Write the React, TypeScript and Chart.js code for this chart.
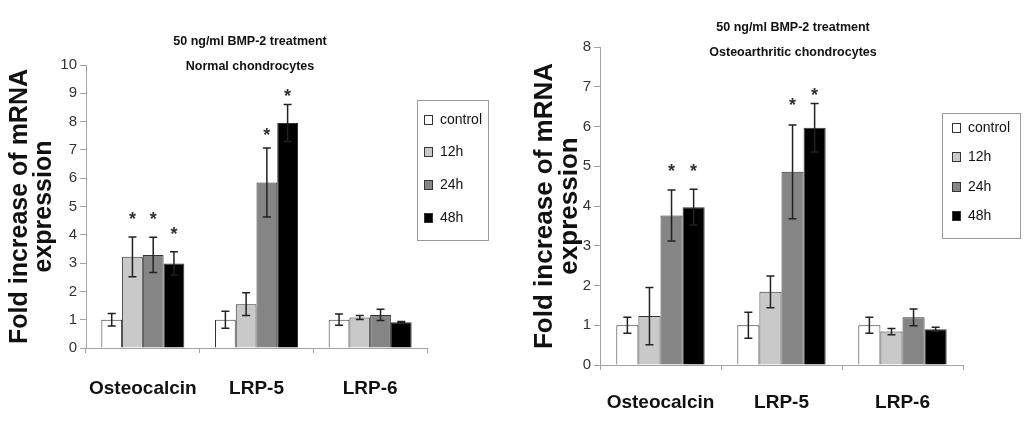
import React, { useEffect, useRef } from 'react';
import { Chart, registerables } from 'chart.js';

Chart.register(...registerables);

// ---------- data ----------
const categories = ['Osteocalcin', 'LRP-5', 'LRP-6'];
const seriesNames = ['control', '12h', '24h', '48h'];
const seriesColors = ['#ffffff', '#c9c9c9', '#858585', '#000000'];
const yAxisTitle = ['Fold increase of mRNA', 'expression'];

// Normal chondrocytes
const normalTitle = ['50 ng/ml BMP-2 treatment', 'Normal chondrocytes'];
const normalControl = [1.0, 1.0, 1.0];
const normal12h = [3.22, 1.55, 1.08];
const normal24h = [3.29, 5.85, 1.17];
const normal48h = [2.99, 7.95, 0.91];
const normalControlErr = [0.22, 0.3, 0.2];
const normal12hErr = [0.7, 0.4, 0.07];
const normal24hErr = [0.62, 1.22, 0.2];
const normal48hErr = [0.41, 0.65, 0.03];
const normal12hStar = [4.66, null, null];
const normal24hStar = [4.66, 7.64, null];
const normal48hStar = [4.13, 9.0, null];
const normalYTicks = [0, 1, 2, 3, 4, 5, 6, 7, 8, 9, 10];

// Osteoarthritic chondrocytes
const oaTitle = ['50 ng/ml BMP-2 treatment', 'Osteoarthritic chondrocytes'];
const oaControl = [1.0, 1.0, 1.0];
const oa12h = [1.23, 1.84, 0.84];
const oa24h = [3.76, 4.86, 1.2];
const oa48h = [3.97, 5.97, 0.9];
const oaControlErr = [0.2, 0.33, 0.2];
const oa12hErr = [0.72, 0.4, 0.08];
const oa24hErr = [0.64, 1.18, 0.21];
const oa48hErr = [0.45, 0.61, 0.05];
const oa12hStar = [null, null, null];
const oa24hStar = [4.95, 6.62, null];
const oa48hStar = [4.95, 6.86, null];
const oaYTicks = [0, 1, 2, 3, 4, 5, 6, 7, 8];

// ---------- styles ----------
const FONT = "'Liberation Sans', Arial, sans-serif";
const AXIS_COLOR = '#a3a3a3';

type Layout = {
  canvasLeft: number;
  padTop: number;
  padRight: number;
  axisWidth: number;
  xAxisHeight: number;
  xLabelPad: number;
  yTitleSize: number;
  yTitlePad: number;
  yTitleLH: number;
  titleX: number;
  titleY: number[];
  legendBox: number[];
  legendItemsY: number[];
  legendMarkerX: number;
  legendTextX: number;
};

type PanelProps = {
  title: string[];
  values: number[][];
  errors: number[][];
  stars: (number | null)[][];
  yTicks: number[];
  layout: Layout;
};

function Panel({ title, values, errors, stars, yTicks, layout }: PanelProps) {
  const ref = useRef<HTMLCanvasElement | null>(null);

  useEffect(() => {
    if (!ref.current) return;
    const overlay = {
      id: 'overlay',
      afterDatasetsDraw(chart: any) {
        const ctx = chart.ctx;
        const y = chart.scales.y;
        ctx.save();
        values.forEach((_s, di) => {
          const meta = chart.getDatasetMeta(di);
          meta.data.forEach((bar: any, ci: number) => {
            const v = values[di][ci];
            const e = errors[di][ci];
            const yt = y.getPixelForValue(v + e);
            const yb = y.getPixelForValue(v - e);
            ctx.strokeStyle = '#222';
            ctx.lineWidth = 1.5;
            ctx.beginPath();
            ctx.moveTo(bar.x, yt);
            ctx.lineTo(bar.x, yb);
            ctx.moveTo(bar.x - 4, yt);
            ctx.lineTo(bar.x + 4, yt);
            ctx.moveTo(bar.x - 4, yb);
            ctx.lineTo(bar.x + 4, yb);
            ctx.stroke();
            const s = stars[di][ci];
            if (s !== null && s !== undefined) {
              ctx.fillStyle = '#333';
              ctx.font = `bold 18px ${FONT}`;
              ctx.textAlign = 'center';
              ctx.textBaseline = 'middle';
              ctx.fillText('*', bar.x, y.getPixelForValue(s) + 4);
            }
          });
        });
        ctx.restore();
      },
      afterDraw(chart: any) {
        const ctx = chart.ctx;
        ctx.save();
        // titles
        ctx.fillStyle = '#111';
        ctx.font = `bold 12.5px ${FONT}`;
        ctx.textAlign = 'center';
        ctx.textBaseline = 'middle';
        title.forEach((t, i) => ctx.fillText(t, layout.titleX, layout.titleY[i]));
        // legend
        const [bx, by, bw, bh] = layout.legendBox;
        ctx.strokeStyle = '#9a9a9a';
        ctx.lineWidth = 1;
        ctx.strokeRect(bx + 0.5, by + 0.5, bw, bh);
        chart.data.datasets.forEach((ds: any, i: number) => {
          const yy = layout.legendItemsY[i];
          ctx.fillStyle = ds.backgroundColor;
          ctx.fillRect(layout.legendMarkerX, yy - 5, 9, 10);
          ctx.strokeStyle = '#333';
          ctx.strokeRect(layout.legendMarkerX + 0.5, yy - 4.5, 8, 9);
          ctx.fillStyle = '#111';
          ctx.font = `14px ${FONT}`;
          ctx.textAlign = 'left';
          ctx.textBaseline = 'middle';
          ctx.fillText(ds.label, layout.legendTextX, yy);
        });
        ctx.restore();
      },
    };

    const chart = new Chart(ref.current, {
      type: 'bar',
      data: {
        labels: categories,
        datasets: values.map((v, i) => ({
          label: seriesNames[i],
          data: v,
          backgroundColor: seriesColors[i],
          borderColor: '#333',
          borderWidth: 1,
          categoryPercentage: 0.73,
          barPercentage: 1.0,
        })),
      },
      options: {
        animation: false,
        responsive: false,
        devicePixelRatio: 1,
        layout: { padding: { top: layout.padTop, right: layout.padRight, left: 0, bottom: 0 } },
        plugins: { legend: { display: false }, tooltip: { enabled: false }, title: { display: false } },
        scales: {
          x: {
            grid: { offset: true, drawOnChartArea: false, drawTicks: true, tickLength: 5, color: AXIS_COLOR },
            border: { color: AXIS_COLOR, width: 1 },
            ticks: {
              font: { family: FONT, size: 19, weight: 'bold' },
              color: '#111',
              padding: layout.xLabelPad,
              autoSkip: false,
              maxRotation: 0,
              minRotation: 0,
            },
            afterFit: (s: any) => { s.height = layout.xAxisHeight; },
          },
          y: {
            min: yTicks[0],
            max: yTicks[yTicks.length - 1],
            afterBuildTicks: (s: any) => { s.ticks = yTicks.map((v) => ({ value: v })); },
            grid: { drawOnChartArea: false, drawTicks: true, tickLength: 6, color: AXIS_COLOR },
            border: { color: AXIS_COLOR, width: 1 },
            ticks: { font: { family: FONT, size: 15 }, color: '#333', padding: 3 },
            title: {
              display: true,
              text: yAxisTitle,
              color: '#111',
              font: { family: FONT, size: layout.yTitleSize, weight: 'bold', lineHeight: layout.yTitleLH },
              padding: { top: layout.yTitlePad, bottom: 0 },
            },
            afterFit: (s: any) => { s.width = layout.axisWidth; },
          },
        },
      } as any,
      plugins: [overlay],
    });
    return () => chart.destroy();
  }, []);

  return (
    <canvas
      ref={ref}
      width={512}
      height={433}
      style={{ position: 'absolute', left: layout.canvasLeft, top: 0, width: 512, height: 433 }}
    />
  );
}

const leftLayout: Layout = {
  canvasLeft: 0,
  padTop: 65,
  padRight: 85,
  axisWidth: 86,
  xAxisHeight: 85,
  xLabelPad: 24,
  yTitleSize: 25,
  yTitlePad: 8,
  yTitleLH: 0.95,
  titleX: 250,
  titleY: [42, 67],
  legendBox: [417, 100, 71, 140],
  legendItemsY: [120, 152, 185, 218],
  legendMarkerX: 424,
  legendTextX: 440,
};

const rightLayout: Layout = {
  canvasLeft: 512,
  padTop: 47,
  padRight: 61,
  axisWidth: 88,
  xAxisHeight: 68,
  xLabelPad: 21,
  yTitleSize: 26,
  yTitlePad: 21,
  yTitleLH: 0.94,
  titleX: 793 - 512,
  titleY: [28, 53],
  legendBox: [942 - 512, 113, 78, 125],
  legendItemsY: [128, 157, 187, 216],
  legendMarkerX: 952 - 512,
  legendTextX: 968 - 512,
};

export default function App() {
  return (
    <div style={{ position: 'fixed', left: 0, top: 0, width: 1024, height: 433, background: '#fff' }}>
      <Panel
        title={normalTitle}
        values={[normalControl, normal12h, normal24h, normal48h]}
        errors={[normalControlErr, normal12hErr, normal24hErr, normal48hErr]}
        stars={[[null, null, null], normal12hStar, normal24hStar, normal48hStar]}
        yTicks={normalYTicks}
        layout={leftLayout}
      />
      <Panel
        title={oaTitle}
        values={[oaControl, oa12h, oa24h, oa48h]}
        errors={[oaControlErr, oa12hErr, oa24hErr, oa48hErr]}
        stars={[[null, null, null], oa12hStar, oa24hStar, oa48hStar]}
        yTicks={oaYTicks}
        layout={rightLayout}
      />
    </div>
  );
}
